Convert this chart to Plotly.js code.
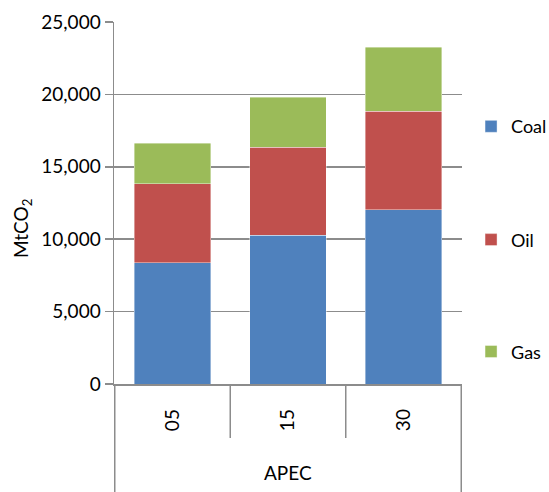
<!DOCTYPE html>
<html>
<head>
<meta charset="utf-8">
<script src="https://cdn.plot.ly/plotly-3.0.1.min.js"></script>
<style>html,body{margin:0;padding:0;background:#fff;}#chart{width:549px;height:492px;}</style>
</head>
<body>
<div id="chart"></div>
<script>
const years = ['05', '15', '30'];
const region = 'APEC';
const coal = [8380, 10290, 12040];
const oil = [5450, 6050, 6810];
const gas = [2790, 3460, 4400];
const seriesNames = ['Coal', 'Oil', 'Gas'];
const seriesColors = ['#4F81BD', '#C0504D', '#9BBB59'];
const yTicks = [0, 5000, 10000, 15000, 20000, 25000];

const FONT = 'Lato, "Open Sans", sans-serif';
const values = [coal, oil, gas];
const legendIds = ['legend', 'legend2', 'legend3'];
const legendY = [0.711, 0.398, 0.089];

const traces = values.map((v, i) => ({
  type: 'bar', name: seriesNames[i], x: years, y: v,
  marker: {color: seriesColors[i], line: {color: 'rgba(255,255,255,0.5)', width: 0.8}},
  legend: legendIds[i], hoverinfo: 'skip'
}));

const gray = '#8c8c8c';
const layout = {
  width: 549, height: 492,
  margin: {l: 114, r: 87, t: 22, b: 108, autoexpand: false},
  paper_bgcolor: '#fff', plot_bgcolor: '#fff',
  barmode: 'stack', bargap: 0.34,
  font: {family: FONT, size: 19, color: '#000'},
  xaxis: {
    type: 'category', showline: true, linecolor: gray, linewidth: 1.5,
    ticks: '', tickangle: -90, ticklabelstandoff: 16,
    tickfont: {size: 19}, showgrid: false, fixedrange: true
  },
  yaxis: {
    range: [0, 25000], tickvals: yTicks, tickformat: ',d',
    showline: true, linecolor: gray, linewidth: 1.5,
    showgrid: true, gridcolor: gray, gridwidth: 1.5,
    ticks: 'outside', ticklen: 8, tickcolor: gray, tickwidth: 1.5,
    zeroline: false, tickfont: {size: 19}, fixedrange: true
  },
  shapes: [
    {type: 'line', xref: 'x', yref: 'paper', x0: -0.5, x1: -0.5, y0: 0, y1: -0.3, line: {color: gray, width: 1.5}},
    {type: 'line', xref: 'x', yref: 'paper', x0: 2.5, x1: 2.5, y0: 0, y1: -0.3, line: {color: gray, width: 1.5}},
    {type: 'line', xref: 'x', yref: 'paper', x0: 0.5, x1: 0.5, y0: 0, y1: -0.149, line: {color: gray, width: 1.5}},
    {type: 'line', xref: 'x', yref: 'paper', x0: 1.5, x1: 1.5, y0: 0, y1: -0.149, line: {color: gray, width: 1.5}}
  ],
  annotations: [
    {text: region, xref: 'paper', yref: 'paper', x: 0.5, y: -0.245, showarrow: false,
     xanchor: 'center', yanchor: 'middle', font: {size: 19}},
    {text: 'MtCO<sub>2</sub>', xref: 'paper', yref: 'paper', x: -0.264, y: 0.431, showarrow: false,
     textangle: -90, xanchor: 'center', yanchor: 'middle', font: {size: 19}}
  ],
  showlegend: true
};
legendIds.forEach((id, i) => {
  layout[id] = {x: 1.026, xanchor: 'left', y: legendY[i], yanchor: 'middle',
    bgcolor: 'rgba(0,0,0,0)', font: {size: 18}, borderwidth: 0};
});

Plotly.newPlot('chart', traces, layout, {displayModeBar: false, staticPlot: true});
</script>
</body>
</html>
